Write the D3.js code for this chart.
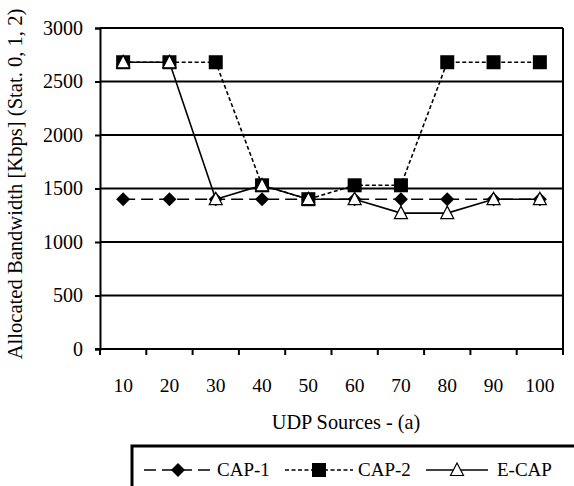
<!DOCTYPE html>
<html>
<head>
<meta charset="utf-8">
<script src="https://cdn.jsdelivr.net/npm/d3@7"></script>
</head>
<body style="margin:0">
<script>
// UDP source counts on the x axis
const sources = ["10", "20", "30", "40", "50", "60", "70", "80", "90", "100"];
// Allocated bandwidth in Kbps per scheme
const cap1 = [1400, 1400, 1400, 1400, 1400, 1400, 1400, 1400, 1400, 1400];
const cap2 = [2680, 2680, 2680, 1530, 1400, 1530, 1530, 2680, 2680, 2680];
const ecap = [2680, 2680, 1400, 1530, 1400, 1400, 1270, 1270, 1400, 1400];
const yTicks = [0, 500, 1000, 1500, 2000, 2500, 3000];
const seriesNames = ["CAP-1", "CAP-2", "E-CAP"];

const W = 574, H = 486;
const margin = { left: 100, right: 11, top: 28, bottom: 137 };
const pw = W - margin.left - margin.right;
const ph = H - margin.top - margin.bottom;

const svg = d3.select("body").append("svg").attr("width", W).attr("height", H);
const g = svg.append("g").attr("transform", `translate(${margin.left},${margin.top})`);

const x = d3.scaleBand().domain(sources).range([0, pw]);
const y = d3.scaleLinear().domain([0, 3000]).range([ph, 0]);

function label(sel, size) {
  return sel.style("font-family", "'Liberation Serif'").attr("font-size", size).attr("fill", "#000");
}

// horizontal gridlines
g.selectAll("line.grid").data(yTicks.filter(d => d > 0)).join("line")
  .attr("class", "grid")
  .attr("x1", 0).attr("x2", pw)
  .attr("y1", d => y(d)).attr("y2", d => y(d))
  .attr("stroke", "#000").attr("stroke-width", 2);

// right border of the plot
g.append("line").attr("x1", pw).attr("x2", pw).attr("y1", 0).attr("y2", ph)
  .attr("stroke", "#000").attr("stroke-width", 2);

// y axis, labels drawn as plain text beside the ticks
const yAxis = g.append("g")
  .call(d3.axisLeft(y).tickValues(yTicks).tickFormat("").tickSize(5));
yAxis.select(".domain").attr("stroke-width", 2);
yAxis.selectAll(".tick line").attr("stroke-width", 2);
label(g.selectAll("text.yl").data(yTicks).join("text")
  .attr("class", "yl")
  .attr("x", -17)
  .attr("y", d => y(d))
  .attr("dy", "0.33em")
  .attr("text-anchor", "end")
  .text(d => d3.format("d")(d)), 20);

// x axis: ticks sit on the band boundaries, labels at band centres
const xAxisG = g.append("g").attr("transform", `translate(0,${ph})`);
xAxisG.append("line").attr("x1", -5).attr("x2", pw).attr("y1", 0).attr("y2", 0)
  .attr("stroke", "#000").attr("stroke-width", 2);
const bounds = sources.map(s => x(s)).concat([pw]);
xAxisG.selectAll("line.xt").data(bounds).join("line")
  .attr("class", "xt")
  .attr("x1", d => d).attr("x2", d => d).attr("y1", 0).attr("y2", 6)
  .attr("stroke", "#000").attr("stroke-width", 2);
label(xAxisG.selectAll("text.xl").data(sources).join("text")
  .attr("class", "xl")
  .attr("x", d => x(d) + x.bandwidth() / 2)
  .attr("y", 43)
  .attr("text-anchor", "middle")
  .text(d => d), 19.5);

// axis titles
label(svg.append("text")
  .attr("x", 346).attr("y", 429)
  .attr("text-anchor", "middle")
  .text("UDP Sources - (a)"), 20.3);
label(svg.append("text")
  .attr("transform", "translate(22,184) rotate(-90)")
  .attr("text-anchor", "middle")
  .text("Allocated Bandwidth [Kbps] (Stat. 0, 1, 2)"), 20.6);

// series styling
const styles = [
  { name: seriesNames[0], data: cap1, dash: "12,6", marker: "diamond" },
  { name: seriesNames[1], data: cap2, dash: "4,2.5", marker: "square" },
  { name: seriesNames[2], data: ecap, dash: null, marker: "triangle" }
];

const cx = d => x(d) + x.bandwidth() / 2;
const line = d3.line().x(d => cx(d.s)).y(d => y(d.v));

function drawMarker(sel, type) {
  if (type === "diamond") {
    sel.append("path").attr("d", "M0,-7L7,0L0,7L-7,0Z").attr("fill", "#000");
  } else if (type === "square") {
    sel.append("rect").attr("x", -7).attr("y", -7).attr("width", 14).attr("height", 14).attr("fill", "#000");
  } else {
    sel.append("path").attr("d", "M0,-7L6.5,5.5L-6.5,5.5Z")
      .attr("fill", "#fff").attr("stroke", "#000").attr("stroke-width", 1.2);
  }
}

styles.forEach(st => {
  const pts = sources.map((s, i) => ({ s, v: st.data[i] }));
  g.append("path").datum(pts)
    .attr("d", line)
    .attr("fill", "none").attr("stroke", "#000").attr("stroke-width", 1.6)
    .attr("stroke-dasharray", st.dash);
  pts.forEach(p => {
    const m = g.append("g").attr("transform", `translate(${cx(p.s)},${y(p.v)})`);
    drawMarker(m, st.marker);
  });
});

// legend
const lg = svg.append("g");
lg.append("rect").attr("x", 132).attr("y", 446).attr("width", 460).attr("height", 60)
  .attr("fill", "#fff").attr("stroke", "#000").attr("stroke-width", 3);
const legendItems = [
  { st: styles[0], x0: 144, x1: 212, tx: 217 },
  { st: styles[1], x0: 285, x1: 353, tx: 358 },
  { st: styles[2], x0: 426, x1: 488, tx: 497 }
];
const ly = 470;
legendItems.forEach(it => {
  lg.append("line").attr("x1", it.x0).attr("x2", it.x1).attr("y1", ly).attr("y2", ly)
    .attr("stroke", "#000").attr("stroke-width", 1.6)
    .attr("stroke-dasharray", it.st.dash);
  const m = lg.append("g").attr("transform", `translate(${(it.x0 + it.x1) / 2},${ly})`);
  drawMarker(m, it.st.marker);
  label(lg.append("text").attr("x", it.tx).attr("y", ly + 6).text(it.st.name), 19);
});
</script>
</body>
</html>
